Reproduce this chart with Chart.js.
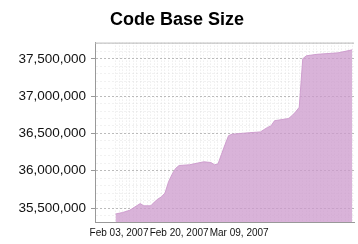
<!DOCTYPE html>
<html>
<head>
<meta charset="utf-8">
<script src="https://cdn.jsdelivr.net/npm/chart.js@4"></script>
<style>
  html, body { margin: 0; padding: 0; background: #fff; }
  #wrap { width: 358px; height: 244px; }
</style>
</head>
<body>
<div id="wrap"><canvas id="sizeChart" width="358" height="244"></canvas></div>
<script>
// days after Feb 03, 2007 and code base size (lines)
const days = [-1, 1, 3, 5, 6, 7, 9, 10, 11, 12, 13, 14, 15, 16, 17, 20, 24, 26, 27, 28,
    29, 30, 31, 32, 37, 40, 41, 42, 43, 44, 48, 49, 50, 51, 52, 53, 56, 62, 66];
const sizes = [35420000, 35440000, 35470000, 35530000, 35560000, 35530000, 35530000, 35580000,
    35620000, 35650000, 35700000, 35850000, 35950000, 36030000, 36070000, 36080000, 36120000,
    36110000, 36080000, 36090000, 36220000, 36350000, 36470000, 36490000, 36510000, 36520000,
    36550000, 36580000, 36600000, 36670000, 36700000, 36740000, 36790000, 36850000, 37500000,
    37540000, 37560000, 37580000, 37620000];
const tickDays = [0, 17, 34];
const tickLabels = ['Feb 03, 2007', 'Feb 20, 2007', 'Mar 09, 2007'];

const points = days.map((d, i) => ({ x: d, y: sizes[i] }));

// draws the light top edge of the plot frame
const frameTop = {
    id: 'frameTop',
    afterDraw(chart) {
        const a = chart.chartArea, c = chart.ctx;
        c.save();
        c.strokeStyle = '#b8b8b8';
        c.lineWidth = 1;
        c.beginPath();
        c.moveTo(a.left, a.top + 0.5);
        c.lineTo(a.right, a.top + 0.5);
        c.stroke();
        c.restore();
    }
};

document.addEventListener('DOMContentLoaded', function () {
    const ctx = document.getElementById('sizeChart').getContext('2d');
    new Chart(ctx, {
        type: 'line',
        data: {
            datasets: [{
                label: 'Code Base Size',
                data: points,
                backgroundColor: 'rgba(204, 153, 204, 0.75)',
                borderColor: 'rgba(204, 153, 204, 0.9)',
                borderWidth: 1,
                fill: 'start',
                tension: 0,
                pointRadius: 0
            }]
        },
        options: {
            responsive: false,
            animation: false,
            layout: { padding: { left: 0, right: 4, top: 0, bottom: 0 } },
            plugins: {
                legend: { display: false },
                tooltip: { enabled: false },
                title: {
                    display: true,
                    text: 'Code Base Size',
                    color: '#000',
                    font: { family: 'Liberation Sans, Arial, sans-serif', size: 18, weight: 'bold' },
                    padding: { top: 9, bottom: 12 }
                }
            },
            scales: {
                x: {
                    type: 'linear',
                    min: -6.8,
                    max: 66.5,
                    afterBuildTicks: function (scale) {
                        const t = [];
                        for (let d = -1; d <= 66; d++) t.push({ value: d });
                        scale.ticks = t;
                    },
                    afterFit: function (scale) { scale.height = 22; },
                    ticks: {
                        autoSkip: false,
                        maxRotation: 0,
                        padding: 5,
                        color: '#111',
                        font: { family: 'Liberation Sans, Arial, sans-serif', size: 10 },
                        callback: function (v) {
                            const i = tickDays.indexOf(v);
                            return i >= 0 ? tickLabels[i] : '';
                        }
                    },
                    grid: {
                        color: 'rgba(200, 200, 200, 0.45)',
                        lineWidth: 1,
                        drawTicks: false,
                        tickLength: 0
                    },
                    border: { display: true, color: '#999', width: 1, dash: [1, 2] }
                },
                y: {
                    min: 35313000,
                    max: 37717000,
                    afterBuildTicks: function (scale) {
                        const t = [];
                        for (let v = 35400000; v <= 37700000; v += 100000) t.push({ value: v });
                        scale.ticks = t;
                    },
                    afterFit: function (scale) { scale.width = 95; },
                    ticks: {
                        autoSkip: false,
                        padding: 5,
                        color: '#111',
                        font: { family: 'Liberation Sans, Arial, sans-serif', size: 13.5 },
                        callback: function (v) {
                            return v % 500000 === 0 ? v.toLocaleString('en-US') : '';
                        }
                    },
                    grid: {
                        color: function (c) {
                            return c.tick && c.tick.value % 500000 === 0 ? 'rgba(180,180,180,0.9)' : 'rgba(215,215,215,0.35)';
                        },
                        tickColor: function (c) {
                            return c.tick && c.tick.value % 500000 === 0 ? '#999' : 'rgba(0,0,0,0)';
                        },
                        tickLength: 4
                    },
                    border: { display: true, color: '#999', width: 1, dash: [2, 2] }
                }
            }
        },
        plugins: [frameTop]
    });
});
</script>
</body>
</html>
